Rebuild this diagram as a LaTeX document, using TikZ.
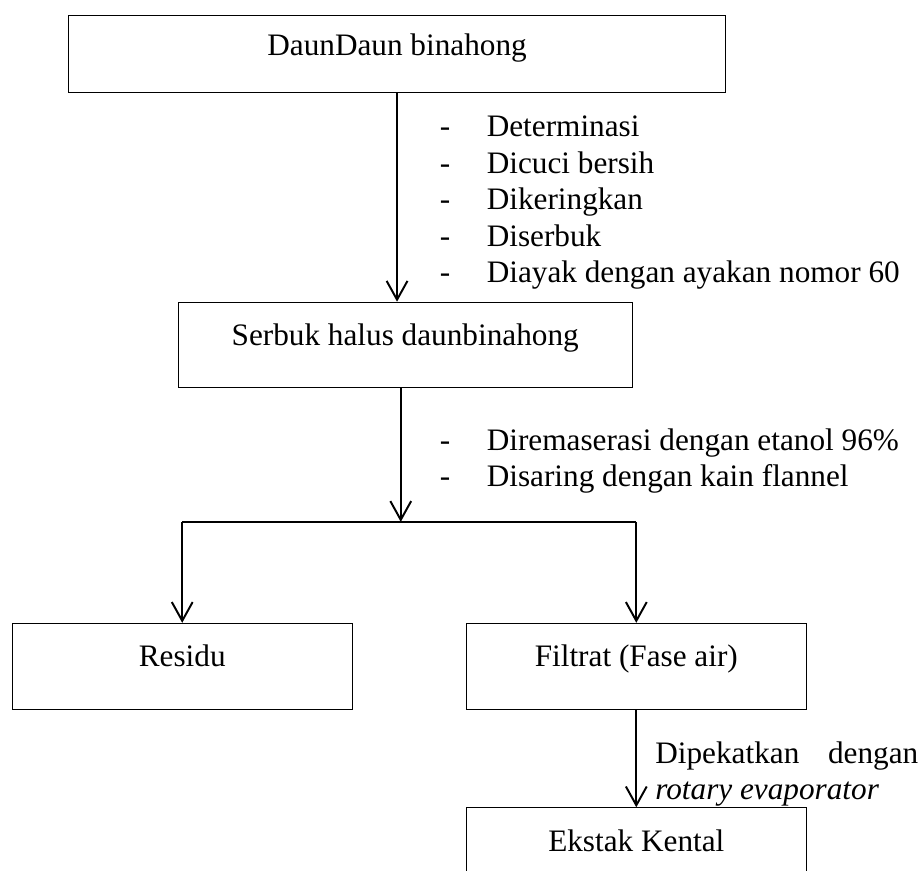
\documentclass[tikz,border=0pt]{standalone}
\usepackage{fontspec}
\setmainfont{Liberation Serif}
\usetikzlibrary{arrows.meta,positioning}
\newcommand{\itm}[1]{\makebox[0.635cm][l]{-}#1}

\begin{document}
\begin{tikzpicture}[font=\fontsize{12}{14}\selectfont,
    box/.style={rectangle, draw=black, line width=0.4pt, minimum width=4.59cm,
                minimum height=1.16cm, inner sep=0pt, text height=0.7em, text depth=0.65em},
    arr/.style={-{Straight Barb[length=7.2pt,width=8pt]}, line width=0.75pt},
    steps/.style={inner sep=0pt, anchor=base west}]
\useasboundingbox (0,0) rectangle (12.474,11.745);
\clip (0,0) rectangle (12.474,11.745);
% boxes
\node[box, minimum width=8.88cm, minimum height=1.04cm] (daun) at (5.36,11.01) {DaunDaun binahong};
\node[box, minimum width=6.13cm, minimum height=1.15cm] (serbuk) at (5.47,7.09) {Serbuk halus daunbinahong};
\node[box] (residu) at (2.46,2.75) {Residu};
\node[box] (filtrat) at (8.59,2.75) {Filtrat (Fase air)};
\node[box] (ekstak) at (8.59,0.26) {Ekstak Kental};
% step lists beside the arrows
\node[steps] (prep) at (5.93,9.90) {\begin{tabular}[t]{@{}l@{}}
    \itm{Determinasi}\\ \itm{Dicuci bersih}\\ \itm{Dikeringkan}\\
    \itm{Diserbuk}\\ \itm{Diayak dengan ayakan nomor 60}\end{tabular}};
\node[steps] (maserasi) at (5.93,5.67) {\begin{tabular}[t]{@{}l@{}}
    \itm{Diremaserasi dengan etanol 96\%}\\ \itm{Disaring dengan kain flannel}\end{tabular}};
\node[steps] (pekat) at (8.84,1.44) {\begin{tabular}[t]{@{}l@{}}
    \makebox[3.55cm][l]{Dipekatkan\hfill dengan}\\ \textit{rotary evaporator}\end{tabular}};
% connectors
\coordinate (split) at (5.41,4.70);
\draw[arr] (daun.south) -- (daun.south |- serbuk.north);
\draw[arr] (serbuk.south -| split) -- (split);
\draw[line width=0.75pt] (residu.north |- split) -- (filtrat.north |- split);
\draw[arr] (residu.north |- split) -- (residu.north);
\draw[arr] (filtrat.north |- split) -- (filtrat.north);
\draw[arr] (filtrat.south) -- (ekstak.north);
\end{tikzpicture}
\end{document}
